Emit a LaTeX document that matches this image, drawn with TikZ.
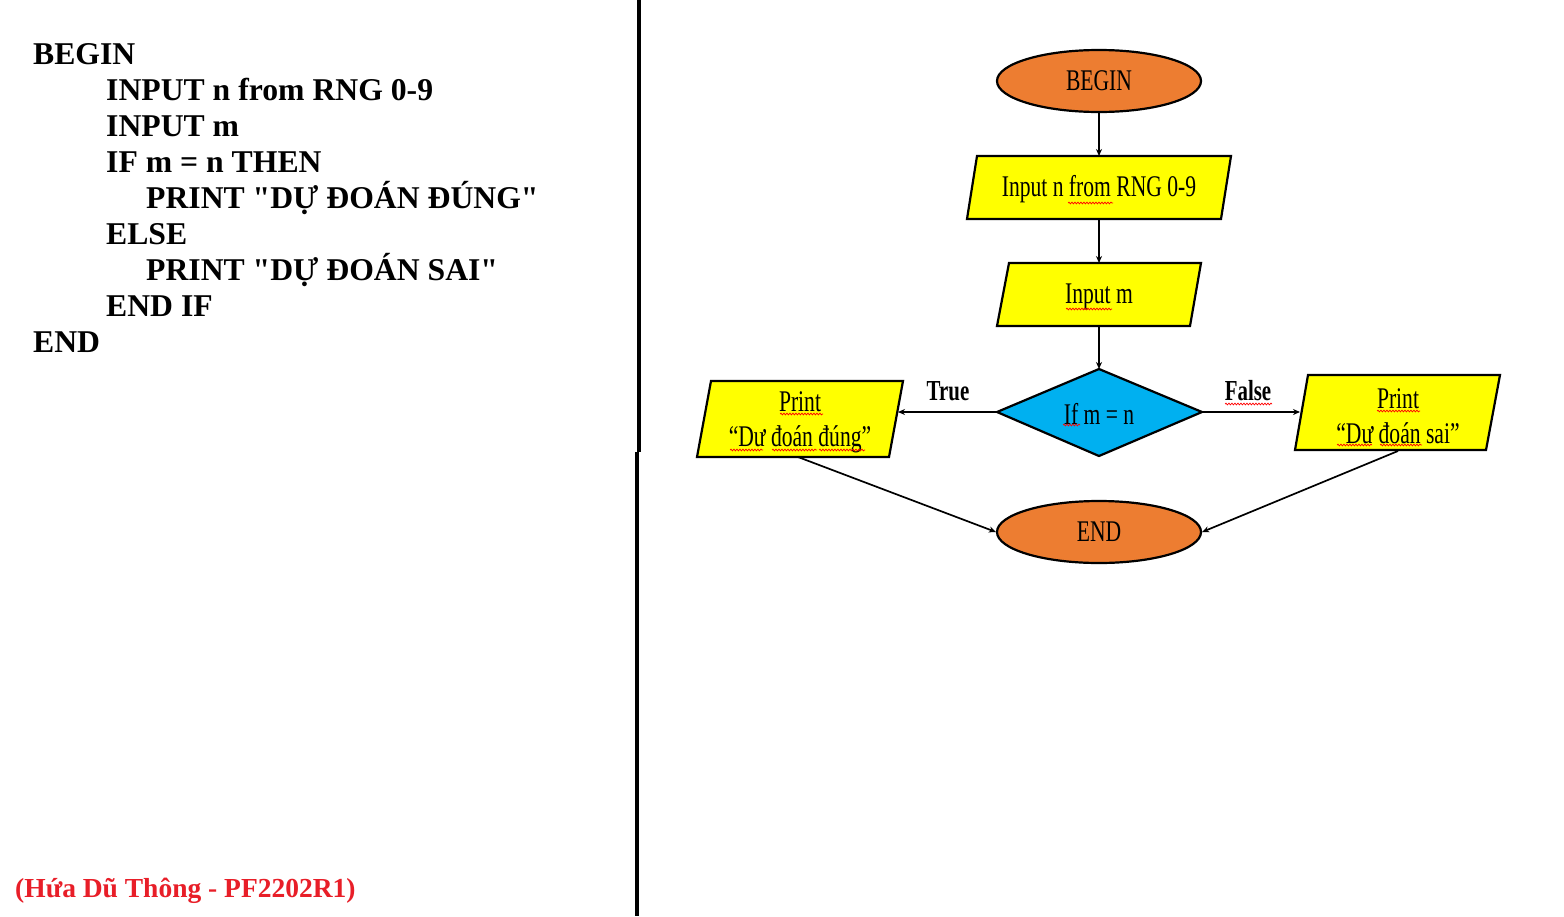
\documentclass[tikz,border=0pt]{standalone}
\usepackage{fontspec}
\setmainfont{Liberation Serif}[Ligatures=TeXOff]
\newfontfamily\cond[FakeStretch=0.72]{Liberation Serif}
\usetikzlibrary{shapes.geometric,arrows.meta,decorations.pathmorphing}
\definecolor{orangeF}{RGB}{237,125,49}
\definecolor{yellowF}{RGB}{255,255,0}
\definecolor{blueF}{RGB}{0,176,240}
\definecolor{redT}{RGB}{232,30,40}
\tikzset{
  codeline/.style={anchor=base west, inner sep=0pt, font=\fontsize{31.7}{36}\selectfont\bfseries},
  shapeline/.style={draw=black, line width=2.2pt, line join=miter},
  term/.style={ellipse, shapeline, fill=orangeF, minimum width=204pt, minimum height=62pt, inner sep=0pt, font=\cond\fontsize{30}{35}\selectfont},
  ftext/.style={inner sep=0pt, font=\cond\fontsize{30}{35}\selectfont, align=center},
  lbl/.style={inner sep=0pt, font=\cond\bfseries\fontsize{29}{34}\selectfont},
  conn/.style={draw=black, line width=1.7pt, -{Stealth[length=7pt,width=6pt]}},
  squig/.style={draw=red, line width=0.7pt, decorate, decoration={snake, amplitude=0.9pt, segment length=3pt}}
}
\begin{document}
\begin{tikzpicture}[x=1pt,y=-1pt]
\useasboundingbox (0,0) rectangle (1564,916);
\fill[white] (0,0) rectangle (1564,916);

% pseudo-code
\node[codeline] (c1) at (33,64) {BEGIN};
\node[codeline] (c2) at (106,100) {INPUT n from RNG 0-9};
\node[codeline] (c3) at (106,136) {INPUT m};
\node[codeline] (c4) at (106,172) {IF m = n THEN};
\node[codeline] (c5) at (146,208) {PRINT "DỰ ĐOÁN ĐÚNG"};
\node[codeline] (c6) at (106,244) {ELSE};
\node[codeline] (c7) at (146,280) {PRINT "DỰ ĐOÁN SAI"};
\node[codeline] (c8) at (106,316) {END IF};
\node[codeline] (c9) at (33,352) {END};

\node[anchor=base west, inner sep=0pt, text=redT, font=\fontsize{27.5}{32}\selectfont\bfseries] (author) at (15,897) {(Hứa Dũ Thông - PF2202R1)};

% divider
\draw[line width=4.5pt] (639,0) -- (639,452);
\draw[line width=4.5pt] (637,452) -- (637,916);

% flowchart shapes
\node[term] (begin) at (1099,81) {BEGIN};

\draw[shapeline, fill=yellowF] (977,156) -- (1231,156) -- (1221,219) -- (967,219) -- cycle;
\coordinate (in1n) at (1099,156);
\coordinate (in1s) at (1099,219);
\node[ftext] (in1) at (1099,189.5) {Input n from RNG 0-9};

\draw[shapeline, fill=yellowF] (1009,263) -- (1201,263) -- (1190,326) -- (997,326) -- cycle;
\coordinate (in2n) at (1099,263);
\coordinate (in2s) at (1099,326);
\node[ftext] (in2) at (1099,296.5) {Input m};

\draw[shapeline, fill=blueF] (1099,369) -- (1202,412) -- (1099,456) -- (997,412) -- cycle;
\coordinate (dn) at (1099,369);
\coordinate (dw) at (997,412);
\coordinate (de) at (1202,412);
\node[ftext] (cond) at (1099,414) {If m = n};

\draw[shapeline, fill=yellowF] (711,381) -- (903,381) -- (889,457) -- (697,457) -- cycle;
\coordinate (pte) at (898,412);
\coordinate (pts) at (798,457);
\node[ftext] (ptrue) at (800,422) {Print\\[0pt]“Dư đoán đúng”};

\draw[shapeline, fill=yellowF] (1308,375) -- (1500,375) -- (1486,450) -- (1295,450) -- cycle;
\coordinate (pfw) at (1300,412);
\coordinate (pfs) at (1398,451);
\node[ftext] (pfalse) at (1398,416) {Print\\[0pt]“Dư đoán sai”};

\node[term] (end) at (1099,532) {END};

% connectors
\draw[conn] (begin.south) -- (in1n);
\draw[conn] (in1s) -- (in2n);
\draw[conn] (in2s) -- (dn);
\draw[conn] (dw) -- (pte);
\draw[conn] (de) -- (pfw);
\draw[conn] (pts) -- (end.west);
\draw[conn] (pfs) -- (end.east);

\node[lbl] (ltrue) at (948,391) {True};
\node[lbl] (lfalse) at (1248,391) {False};

% spell-check squiggles
\draw[squig] (1068,203) -- (1113,203);
\draw[squig] (1066,309) -- (1112,309);
\draw[squig] (1063,425) -- (1080,425);
\draw[squig] (780,414) -- (823,414);
\draw[squig] (730,450) -- (763,450);
\draw[squig] (772,450) -- (817,450);
\draw[squig] (819,450) -- (865,450);
\draw[squig] (1225,404) -- (1272,404);
\draw[squig] (1377,411) -- (1420,411);
\draw[squig] (1337,445) -- (1372,445);
\draw[squig] (1380,445) -- (1422,445);
\end{tikzpicture}
\end{document}
